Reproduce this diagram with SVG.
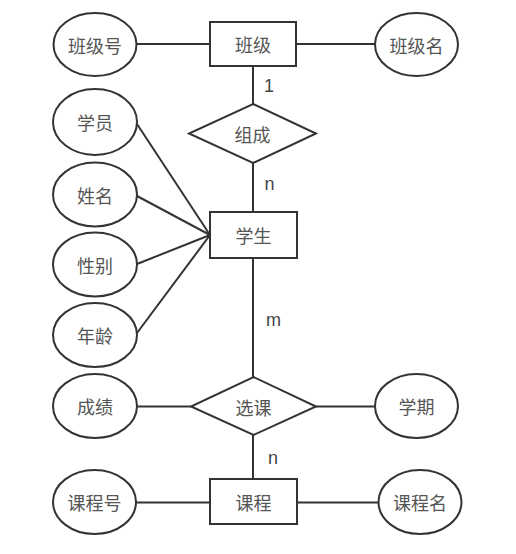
<svg xmlns="http://www.w3.org/2000/svg" width="516" height="554" viewBox="0 0 516 554">
<style>
.s{fill:#fff;stroke:#333;stroke-width:2}
.t{font-family:"Noto Sans CJK SC","Noto Sans",sans-serif;font-size:18px;fill:#555;text-anchor:middle;dominant-baseline:central}
.l{font-family:"Liberation Sans",Arial,sans-serif;font-size:18px;fill:#444;text-anchor:middle;dominant-baseline:central}
.c{stroke:#333;stroke-width:2;fill:none}
</style>
<rect width="516" height="554" fill="#fff"/>
<g id="connectors" class="c">
<line x1="136" y1="44" x2="210" y2="44"/>
<line x1="296" y1="44" x2="375" y2="44"/>
<line x1="253" y1="66" x2="253" y2="104"/>
<line x1="253" y1="163" x2="253" y2="212"/>
<line x1="137" y1="124" x2="210" y2="235"/>
<line x1="137" y1="196" x2="210" y2="235"/>
<line x1="137" y1="264" x2="210" y2="235"/>
<line x1="137" y1="333" x2="210" y2="235"/>
<line x1="253" y1="258" x2="253" y2="377"/>
<line x1="137" y1="406.5" x2="191" y2="406.5"/>
<line x1="316" y1="406.5" x2="375" y2="406.5"/>
<line x1="253" y1="435" x2="253" y2="479"/>
<line x1="136" y1="502.5" x2="210" y2="502.5"/>
<line x1="297" y1="502.5" x2="379" y2="502.5"/>
</g>
<g id="labels">
<text class="l" x="269" y="86">1</text>
<text class="l" x="269.5" y="184">n</text>
<text class="l" x="273.5" y="320">m</text>
<text class="l" x="273" y="458">n</text>
</g>
<g id="banji"><rect class="s" x="210" y="22" width="86" height="44"/><text class="t" x="253" y="44">班级</text></g>
<g id="banjihao"><ellipse class="s" cx="95" cy="44.5" rx="41.5" ry="31.5"/><text class="t" x="95" y="44.5">班级号</text></g>
<g id="banjiming"><ellipse class="s" cx="416.5" cy="44.5" rx="41.5" ry="31.5"/><text class="t" x="416.5" y="44.5">班级名</text></g>
<g id="zucheng"><polygon class="s" points="253,104 316,133.5 253,163 189,133.5"/><text class="t" x="252.5" y="134">组成</text></g>
<g id="xueyuan"><ellipse class="s" cx="95" cy="122" rx="42" ry="33"/><text class="t" x="95" y="122">学员</text></g>
<g id="xingming"><ellipse class="s" cx="95" cy="194.5" rx="42" ry="32"/><text class="t" x="95" y="194.5">姓名</text></g>
<g id="xingbie"><ellipse class="s" cx="95" cy="264.5" rx="42" ry="32"/><text class="t" x="95" y="264.5">性别</text></g>
<g id="nianling"><ellipse class="s" cx="95" cy="335" rx="42" ry="32"/><text class="t" x="95" y="335">年龄</text></g>
<g id="xuesheng"><rect class="s" x="210" y="212" width="87" height="46"/><text class="t" x="253.5" y="235">学生</text></g>
<g id="xuanke"><polygon class="s" points="253.5,377 316,406.5 253.5,435 191,406.5"/><text class="t" x="253.5" y="407">选课</text></g>
<g id="chengji"><ellipse class="s" cx="95" cy="406" rx="42" ry="32"/><text class="t" x="95" y="406">成绩</text></g>
<g id="xueqi"><ellipse class="s" cx="416.5" cy="406" rx="41.5" ry="32"/><text class="t" x="416.5" y="406">学期</text></g>
<g id="kecheng"><rect class="s" x="210" y="479" width="87" height="45"/><text class="t" x="253.5" y="501.5">课程</text></g>
<g id="kechenghao"><ellipse class="s" cx="94.5" cy="502" rx="41.5" ry="32"/><text class="t" x="94.5" y="502">课程号</text></g>
<g id="kechengming"><ellipse class="s" cx="420" cy="502" rx="41.5" ry="32"/><text class="t" x="420" y="502">课程名</text></g>
</svg>
